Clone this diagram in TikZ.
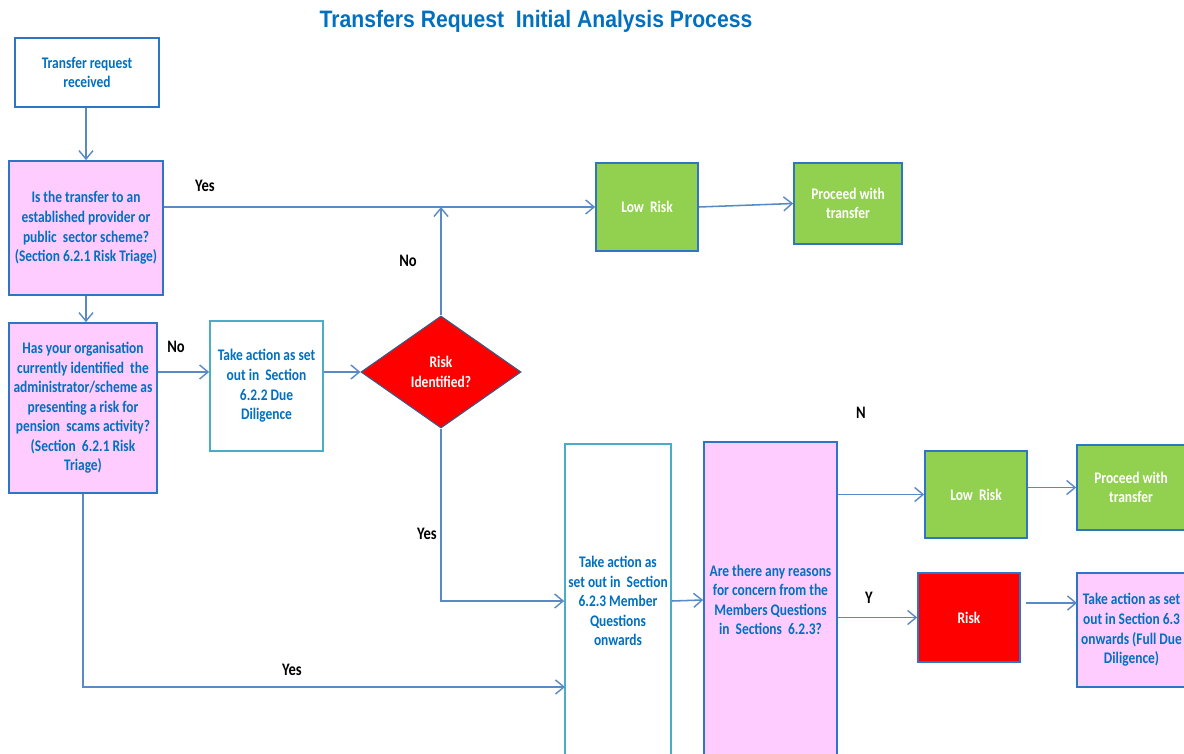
\documentclass[tikz,border=0pt]{standalone}
\usepackage{fontspec}
\setmainfont[FakeStretch=0.83]{Carlito}
\newfontfamily\titlefont[FakeStretch=0.89]{Liberation Sans}
\usetikzlibrary{shapes.geometric,arrows.meta}
\definecolor{txtblue}{HTML}{0070C0}
\definecolor{linecol}{HTML}{5A8AC6}
\definecolor{boxline}{HTML}{2E75C6}
\definecolor{tealline}{HTML}{4BACC6}
\definecolor{pinkfill}{HTML}{FFCCFF}
\definecolor{greenfill}{HTML}{92D050}
\definecolor{redfill}{HTML}{FF0000}
\definecolor{diaedge}{HTML}{3C5A82}
\tikzset{
  base/.style={rectangle, inner sep=2pt, align=center, line width=1.2pt,
    font=\bfseries\fontsize{11.5}{13.9}\selectfont},
  whitebox/.style={base, draw=boxline, fill=white, text=txtblue},
  tealbox/.style={base, draw=tealline, fill=white, text=txtblue},
  pinkbox/.style={base, draw=boxline, fill=pinkfill, text=txtblue},
  greenbox/.style={base, draw=boxline, fill=greenfill, text=white},
  redbox/.style={base, draw=boxline, fill=redfill, text=white},
  decision/.style={diamond, draw=diaedge, line width=0.8pt, fill=redfill, text=white,
    inner sep=0pt, align=center, font=\bfseries\fontsize{11.5}{13.9}\selectfont},
  arr/.style={draw=linecol, line width=1.1pt, -{Straight Barb[length=6pt,width=10pt,line width=1pt]}},
  lab/.style={anchor=base, font=\bfseries\fontsize{12.5}{15}\selectfont, text=black},
}
\begin{document}
\begin{tikzpicture}[x=0.025cm, y=-0.025cm]
\clip (0,0) rectangle (1184,754);
\fill[white] (0,0) rectangle (1184,754);

\node[anchor=base, text=txtblue] (title) at (536,28)
  {\titlefont\bfseries\fontsize{16.9}{20}\selectfont Transfers Request\ \ Initial Analysis Process};

\node[whitebox, minimum width=3.6cm, minimum height=1.725cm] (recv) at (87,72.5)
  {Transfer request\\received};
\node[pinkbox, minimum width=3.85cm, minimum height=3.35cm] (q1) at (86,228)
  {Is the transfer to an\\established provider or\\public\ \ sector scheme?\\(Section 6.2.1 Risk Triage)};
\node[pinkbox, minimum width=3.7cm, minimum height=4.25cm] (q2) at (83,408)
  {Has your organisation\\currently identified\ \ the\\administrator/scheme as\\presenting a risk for\\pension\ \ scams activity?\\(Section\ \ 6.2.1 Risk\\Triage)};
\node[tealbox, minimum width=2.825cm, minimum height=3.25cm] (dd) at (266.5,386)
  {Take action as set\\out in\ \ Section\\6.2.2 Due\\Diligence};
\node[decision, aspect=1.43, minimum width=4cm, minimum height=2.8cm] (dia) at (441,372)
  {Risk\\Identified?};
\node[greenbox, minimum width=2.55cm, minimum height=2.2cm] (low1) at (647,207)
  {Low\ \ Risk};
\node[greenbox, minimum width=2.7cm, minimum height=2.025cm] (proc1) at (848,203.5)
  {Proceed with\\transfer};
\node[tealbox, minimum width=2.65cm, minimum height=7.85cm] (mq) at (618,601)
  {Take action as\\set out in\ \ Section\\6.2.3 Member\\Questions\\onwards};
\node[pinkbox, minimum width=3.325cm, minimum height=7.9cm] (q3) at (770.5,600)
  {Are there any reasons\\for concern from the\\Members Questions\\in\ \ Sections\ \ 6.2.3?};
\node[greenbox, minimum width=2.55cm, minimum height=2.175cm] (low2) at (976,494.5)
  {Low\ \ Risk};
\node[greenbox, minimum width=2.7cm, minimum height=2.125cm] (proc2) at (1131,487.5)
  {Proceed with\\transfer};
\node[redbox, minimum width=2.55cm, minimum height=2.225cm] (risk) at (969,617.5)
  {Risk};
\node[pinkbox, minimum width=2.725cm, minimum height=2.85cm] (full) at (1131.5,630)
  {Take action as set\\out in Section 6.3\\onwards (Full Due\\Diligence)};

\coordinate (mqin) at (565,687);
\coordinate (fullin) at (1077,603);

\draw[arr] (recv.south -| q1.north) -- (q1.north);
\draw[arr] (q1.south) -- (q1.south |- q2.north);
\draw[arr] (q2.east |- dia.west) -- (dd.west |- dia.west);
\draw[arr] (dd.east |- dia.west) -- (dia.west);
\draw[arr] (low1.west -| q1.east) -- (low1.west);
\draw[arr] (dia.north) -- (dia.north |- low1.west);
\draw[arr] (low1.east) -- (proc1.west);
\draw[arr] (dia.south) |- (mq.west);
\draw[arr] (q2.south) |- (mqin);
\draw[arr] (mq.east) -- (q3.west);
\draw[arr] (q3.east |- low2.west) -- (low2.west);
\draw[arr] (low2.east |- proc2.west) -- (proc2.west);
\draw[arr] (q3.east |- risk.west) -- (risk.west);
\draw[arr, shorten <=3.5pt] (risk.east |- fullin) -- (fullin);

\node[lab] (l1) at (205,192) {Yes};
\node[lab] (l2) at (176,353) {No};
\node[lab] (l3) at (408,267) {No};
\node[lab] (l4) at (427,539) {Yes};
\node[lab] (l5) at (292,675) {Yes};
\node[lab] (l6) at (861,418) {N};
\node[lab] (l7) at (869,603) {Y};
\end{tikzpicture}
\end{document}
